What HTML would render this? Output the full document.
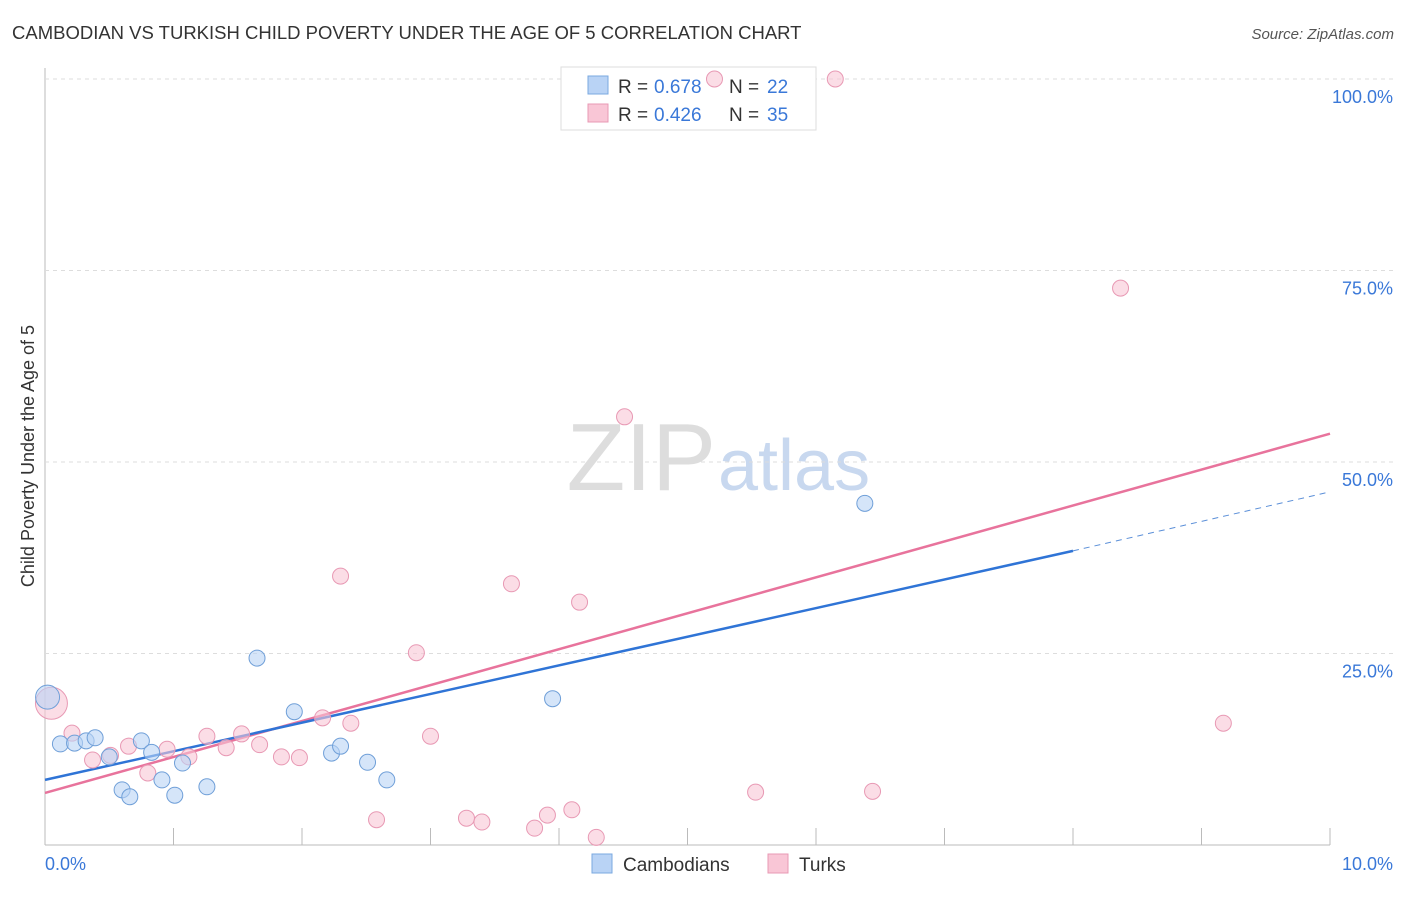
<!DOCTYPE html>
<html><head><meta charset="utf-8"><style>
body{margin:0;background:#fff;font-family:"Liberation Sans",sans-serif;}
svg text{font-family:"Liberation Sans",sans-serif;}
</style></head><body>
<svg id="c" width="1406" height="892" xmlns="http://www.w3.org/2000/svg">
<text x="12" y="39" font-size="18.5" fill="#333">CAMBODIAN VS TURKISH CHILD POVERTY UNDER THE AGE OF 5 CORRELATION CHART</text>
<text x="1394" y="39" font-size="15" fill="#555" text-anchor="end" font-style="italic">Source: ZipAtlas.com</text>
<text x="716" y="490" font-size="96" fill="#ddd" text-anchor="end" font-family="Liberation Serif">ZIP</text>
<text x="718" y="490" font-size="72" fill="#c8d8ef">atlas</text>
<text transform="translate(34,456) rotate(-90)" font-size="18" fill="#333" text-anchor="middle">Child Poverty Under the Age of 5</text>
<g id="grid"></g><g id="lines"></g>
<g>
<rect x="561" y="67" width="255" height="63" fill="#fff" stroke="#ddd"/>
<rect x="588" y="76" width="20" height="18" fill="#b9d3f5" stroke="#7aa8e0"/>
<text x="618" y="93" font-size="19" fill="#333">R =</text>
<text x="654" y="93" font-size="19" fill="#3a78d8">0.678</text>
<text x="729" y="93" font-size="19" fill="#333">N =</text>
<text x="767" y="93" font-size="19" fill="#3a78d8">22</text>
<rect x="588" y="104" width="20" height="18" fill="#f9c6d6" stroke="#e899b4"/>
<text x="618" y="121" font-size="19" fill="#333">R =</text>
<text x="654" y="121" font-size="19" fill="#3a78d8">0.426</text>
<text x="729" y="121" font-size="19" fill="#333">N =</text>
<text x="767" y="121" font-size="19" fill="#3a78d8">35</text>
</g>
<g id="pts"></g>
<g>
<rect x="592" y="854" width="20" height="19" fill="#b9d3f5" stroke="#7aa8e0"/>
<text x="623" y="871" font-size="19" fill="#333">Cambodians</text>
<rect x="768" y="854" width="20" height="19" fill="#f9c6d6" stroke="#e899b4"/>
<text x="799" y="871" font-size="19" fill="#333">Turks</text>
</g>
<text x="45" y="870" font-size="18" fill="#3a78d8">0.0%</text>
<text x="1393" y="870" font-size="18" fill="#3a78d8" text-anchor="end">10.0%</text>
</svg>
<script>
const camX=[0.02,0.12,0.23,0.32,0.39,0.50,0.60,0.66,0.75,0.83,0.91,1.01,1.07,1.26,1.65,1.94,2.23,2.30,2.51,2.66,3.95,6.38];
const camY=[19.3,13.2,13.3,13.6,14.0,11.5,7.2,6.3,13.6,12.1,8.5,6.5,10.7,7.6,24.4,17.4,12.0,12.9,10.8,8.5,19.1,44.6];
const turX=[0.05,0.21,0.37,0.51,0.65,0.80,0.95,1.12,1.26,1.41,1.53,1.67,1.84,1.98,2.16,2.30,2.38,2.58,2.89,3.00,3.28,3.40,3.63,3.81,3.91,4.10,4.16,4.29,4.51,5.21,5.53,6.15,6.44,8.37,9.17];
const turY=[18.5,14.6,11.1,11.7,12.9,9.4,12.5,11.5,14.2,12.7,14.5,13.1,11.5,11.4,16.6,35.1,15.9,3.3,25.1,14.2,3.5,3.0,34.1,2.2,3.9,4.6,31.7,1.0,55.9,100,6.9,100,7.0,72.7,15.9];
const camTrend=[8.5,38.4,46.1]; // y at x=0, x=8 (solid end), x=10
const turTrend=[6.8,53.7];      // y at x=0, x=10
const yTicks=[25,50,75,100];
const X=v=>45+v*128.5, Y=v=>845-v*7.66;
const NS="http://www.w3.org/2000/svg";
function mk(g,t,a){const e=document.createElementNS(NS,t);for(const k in a)e.setAttribute(k,a[k]);document.getElementById(g).appendChild(e);return e;}
let e=mk('grid','line',{x1:45,y1:845,x2:1330,y2:845,stroke:'#bbb'});

e=mk('grid','line',{x1:45,y1:68,x2:45,y2:845,stroke:'#bbb'});

for(let i=1;i<=10;i++){e=mk('grid','line',{x1:X(i),y1:828,x2:X(i),y2:845,stroke:'#bbb'});
}
yTicks.forEach(t=>{e=mk('grid','line',{x1:45,y1:Y(t),x2:1393,y2:Y(t),stroke:'#ddd','stroke-dasharray':'4,4'});

e=mk('grid','text',{x:1393,y:Y(t)+24,'font-size':18,fill:'#3a78d8','text-anchor':'end'});e.textContent=t.toFixed(1)+'%';
});
function pts(xs,ys,fill,stroke,name){xs.forEach((x,i)=>{const r=(name==='turk-point'&&i===0)?16:(name==='cambodian-point'&&i===0)?12:8;
const c=mk('pts','circle',{cx:X(x),cy:Y(ys[i]),r:r,fill:fill,stroke:stroke,'fill-opacity':0.6,'stroke-width':1});
});}
pts(turX,turY,'#f9c6d6','#e899b4','turk-point');
pts(camX,camY,'#b9d3f5','#6f9fd8','cambodian-point');
e=mk('lines','line',{x1:X(0),y1:Y(turTrend[0]),x2:X(10),y2:Y(turTrend[1]),stroke:'#e8739c','stroke-width':2.5});

e=mk('lines','line',{x1:X(0),y1:Y(camTrend[0]),x2:X(8),y2:Y(camTrend[1]),stroke:'#2f74d6','stroke-width':2.5});

e=mk('lines','line',{x1:X(8),y1:Y(camTrend[1]),x2:X(10),y2:Y(camTrend[2]),stroke:'#5b8fd8','stroke-width':1,'stroke-dasharray':'6,5'});

</script>
</body></html>
